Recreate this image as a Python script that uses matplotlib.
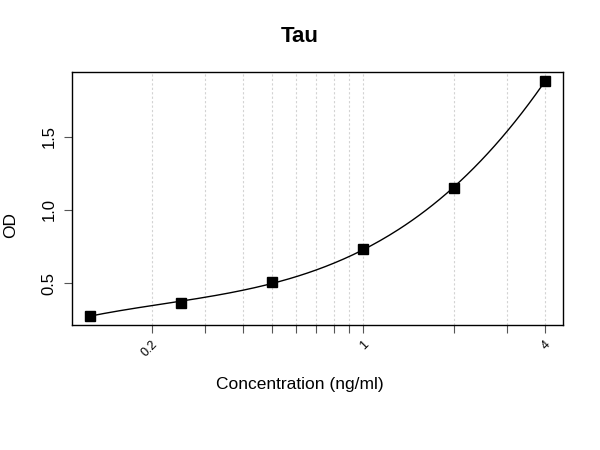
import matplotlib
matplotlib.use('Agg')
import matplotlib.pyplot as plt
import numpy as np
from matplotlib.ticker import FixedLocator, NullLocator, NullFormatter

plt.rcParams['font.family'] = ['Liberation Sans', 'DejaVu Sans']

# standards
conc = [0.125, 0.25, 0.5, 1, 2, 4]
od = [0.28, 0.366, 0.509, 0.731, 1.147, 1.877]

x_ticks = [0.2, 0.3, 0.4, 0.5, 0.6, 0.7, 0.8, 0.9, 1, 2, 3, 4]
x_labels = ['0.2', '', '', '', '', '', '', '', '1', '', '', '4']
y_ticks = [0.5, 1.0, 1.5]

fig = plt.figure(figsize=(6, 4.5), dpi=100)
ax = fig.add_axes([0.12, 0.278, 0.818, 0.562])

# fitted curve (cubic in log10 conc)
lx = np.log10(conc)
coef = np.polyfit(lx, od, 3)
xs = np.linspace(lx[0], lx[-1], 200)
ax.plot(10 ** xs, np.polyval(coef, xs), color='black', lw=1)

ax.plot(conc, od, 's', color='black', markersize=7.2)

ax.set_xscale('log')
lo, hi = np.log10(min(conc)), np.log10(max(conc))
pad = (hi - lo) * 0.04
ax.set_xlim(10 ** (lo - pad), 10 ** (hi + pad))
ylo, yhi = min(od), max(od)
ypad = (yhi - ylo) * 0.04
ax.set_ylim(ylo - ypad, yhi + ypad)

ax.xaxis.set_major_locator(FixedLocator(x_ticks))
ax.xaxis.set_minor_locator(NullLocator())
ax.xaxis.set_minor_formatter(NullFormatter())
ax.set_xticklabels(x_labels, rotation=45, ha='right', rotation_mode='anchor', fontsize=9)
ax.set_yticks(y_ticks)
ax.set_yticklabels(['0.5', '1.0', '1.5'], rotation=90, va='center', fontsize=12)

for xt in x_ticks:
    ax.axvline(xt, color='#d3d3d3', lw=0.8, ls=(0, (2, 2)), zorder=0)

ax.tick_params(axis='both', direction='out', length=6, color='#555555', width=0.8)
ax.tick_params(axis='x', pad=4)
ax.tick_params(axis='y', pad=5)
for s in ax.spines.values():
    s.set_linewidth(1)

fig.text(0.5, 1 - 37 / 450, 'Tau', ha='center', va='center', fontsize=16, fontweight='bold')
fig.text(0.5, 1 - 385 / 450, 'Concentration (ng/ml)', ha='center', va='center', fontsize=12.5)
fig.text(11 / 600, 0.5, 'OD', ha='center', va='center', rotation=90, fontsize=12.5)

fig.savefig('out.png', dpi=100)
